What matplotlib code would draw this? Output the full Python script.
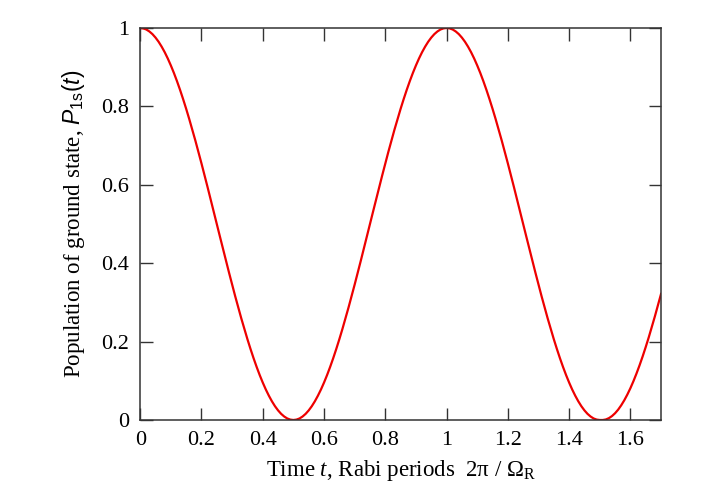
import numpy as np
import matplotlib
matplotlib.use("Agg")
import matplotlib.pyplot as plt
from matplotlib.ticker import FuncFormatter

# ground state population, time step 0.01 Rabi periods
t_step = 0.01
half_period = [
    1.0000, 0.9990, 0.9961, 0.9911, 0.9843, 0.9755, 0.9649, 0.9524, 0.9382, 0.9222,
    0.9045, 0.8853, 0.8645, 0.8423, 0.8187, 0.7939, 0.7679, 0.7409, 0.7129, 0.6841,
    0.6545, 0.6243, 0.5937, 0.5627, 0.5314, 0.5000, 0.4686, 0.4373, 0.4063, 0.3757,
    0.3455, 0.3159, 0.2871, 0.2591, 0.2321, 0.2061, 0.1813, 0.1577, 0.1355, 0.1147,
    0.0955, 0.0778, 0.0619, 0.0476, 0.0351, 0.0245, 0.0157, 0.0089, 0.0039, 0.0010,
    0.0000,
]
# last rise, t = 1.51 .. 1.70 (a bit slower than the first ones)
last_rise = [
    0.0000, 0.0014, 0.0048, 0.0101, 0.0173, 0.0264, 0.0375, 0.0503, 0.0649, 0.0812,
    0.0992, 0.1188, 0.1398, 0.1623, 0.1862, 0.2112, 0.2375, 0.2647, 0.2929, 0.3217,
]
rising = half_period[-2::-1]          # 0.51 .. 1.00
first_period = half_period + rising   # 0.00 .. 1.00
population = first_period + first_period[1:51] + last_rise   # up to t = 1.70
time = t_step * np.arange(len(population))

x_ticks = [0, 0.2, 0.4, 0.6, 0.8, 1, 1.2, 1.4, 1.6]
y_ticks = [0, 0.2, 0.4, 0.6, 0.8, 1]

plt.rcParams["font.family"] = ["Liberation Serif", "DejaVu Serif"]
plt.rcParams["mathtext.fontset"] = "custom"
plt.rcParams["mathtext.rm"] = "Liberation Serif"
plt.rcParams["mathtext.it"] = "Liberation Sans:italic"
plt.rcParams["mathtext.sf"] = "Liberation Sans"
plt.rcParams["mathtext.bf"] = "Liberation Serif:italic"

fig = plt.figure(figsize=(7.01, 4.91), dpi=100)
ax = fig.add_axes([0.2, 0.1446, 0.743, 0.7984])

ax.plot(time, population, color="#ee0000", lw=1.6)

ax.set_xlim(0, 1.7)
ax.set_ylim(0, 1)
ax.set_xticks(x_ticks)
ax.set_yticks(y_ticks)
fmt = FuncFormatter(lambda v, p: "%g" % v)
ax.xaxis.set_major_formatter(fmt)
ax.yaxis.set_major_formatter(fmt)
ax.tick_params(direction="in", length=9, width=1, color="#333333",
               top=True, right=True, labelsize=16, pad=8)
for s in ax.spines.values():
    s.set_linewidth(1.1)
    s.set_color("#333333")

ax.set_xlabel(r"Time $\mathbf{t}$, Rabi periods  2π / $\mathrm{\Omega_R}$",
              fontsize=16.5, labelpad=6)
ax.set_ylabel(r"Population of ground state, $P_{\mathsf{1s}}\mathsf{(}t\mathsf{)}$",
              fontsize=16.5, labelpad=10)

fig.savefig("out.png", dpi=100)
